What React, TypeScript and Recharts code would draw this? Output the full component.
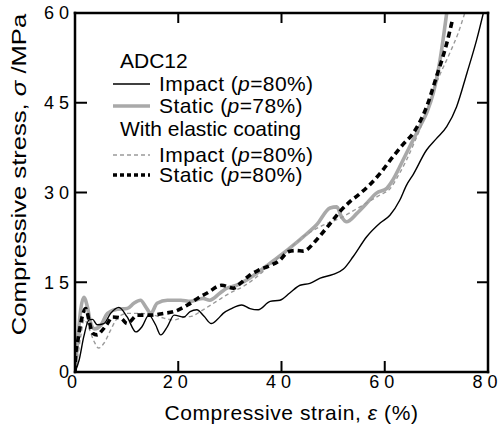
import React from 'react';
import { LineChart, Line, XAxis, YAxis, Legend, Label, ReferenceLine } from 'recharts';

type P = { x: number; y: number };
const pts = (a: number[][]): P[] => a.map(([x, y]) => ({ x, y }));

const FONT = '"Liberation Sans", Arial, Helvetica, sans-serif';

const X_DOMAIN: [number, number] = [0, 80];
const Y_DOMAIN: [number, number] = [0, 60];
const xTicks = [0, 20, 40, 60, 80];
const yTicks = [0, 15, 30, 45, 60];
const topTicks = [20, 40, 60];
const rightTicks = [15, 30, 45];
const spaced = (v: number) => String(v).split('').join(' ');

// ADC12, impact (p=80%)
const impactAdc12 = pts([
  [0, 0], [0.8, 2], [1.7, 5.9], [2.7, 8.7], [3.4, 8.8], [4.3, 7.9], [5.6, 8.1], [6.9, 9.8],
  [8.5, 10.8], [10.1, 9.2], [11.8, 6.7], [13, 7.6], [14.3, 9.5], [15.6, 7.9], [16.6, 6.2],
  [17.9, 7.6], [19.2, 9.5], [21.1, 9.2], [22.3, 10.1], [23.6, 10.4], [25, 9.3], [26.4, 8.1],
  [27.6, 8.8], [28.7, 9.8], [30.3, 10.6], [32.3, 11.2], [33.9, 10.6], [35.5, 10.4], [37.8, 11.8],
  [39.7, 12.0], [41.6, 13.2], [43.6, 14.5], [45.5, 14.8], [47.5, 15.7], [50, 16.3], [52, 17.2],
  [53.9, 19.3], [56.5, 22.6], [59.1, 24.9], [61, 26.2], [62.9, 28.7], [64.2, 31.2], [65.5, 33],
  [68.1, 37.1], [70, 39], [72, 41], [73.9, 44.3], [75.9, 49.9], [77.8, 55.5], [79.1, 60],
]);

// ADC12, static (p=78%)
const staticAdc12 = pts([
  [0, 0], [0.3, 3], [0.7, 7], [1.1, 10.4], [1.7, 12.5], [2.4, 10.9], [3.0, 8.3], [3.8, 7.2],
  [5, 7.8], [6.3, 9.8], [8.2, 10.5], [10.1, 10.6], [11.4, 11.5], [12.7, 12], [13.7, 10.9],
  [14.7, 9.8], [15.9, 11.5], [17.9, 12], [20.5, 12], [22.3, 11.8], [24.8, 12.3], [26.1, 12],
  [28.1, 13.2], [29.4, 14], [31.3, 14.5], [33.3, 15.4], [35.2, 16.5], [37.8, 18.2], [40.3, 19.8],
  [42.3, 21.2], [44.2, 22.6], [46.8, 24.6], [49.4, 27.4], [50.7, 27.6], [51.6, 26], [52.6, 25.1],
  [54.6, 26.5], [56.5, 28.2], [58.4, 29.9], [60.4, 30.7], [61.5, 32], [62.9, 34.3], [64.8, 37.6],
  [66.8, 41], [68.2, 43.5], [69.4, 46.6], [70.7, 52.1], [72, 60],
]);

// With elastic coating, impact (p=80%)
const impactElastic = pts([
  [0, 0], [0.5, 2.5], [1.1, 5.9], [1.8, 8.8], [2.7, 7.3], [3.7, 5.1], [4.6, 4.0], [5.6, 4.8],
  [6.9, 7.0], [8.2, 9.0], [10.1, 9.8], [12.7, 9.8], [15.3, 9.5], [17.2, 9.0], [19.2, 8.7],
  [21.1, 9.2], [22.5, 9.3], [24.8, 10.4], [27.4, 11.8], [30, 13.2], [32.6, 14.3], [35.2, 15.9],
  [37.8, 17.9], [40.3, 19.8], [42.3, 21.2], [44.2, 22.6], [47.5, 24.3], [51.3, 25.7], [55.2, 27.6],
  [59.1, 29.6], [61, 30.6], [62.6, 32.8], [64.2, 35.4], [65.8, 38.5], [67.5, 42.1], [70, 48.3],
  [72.6, 53.3], [74.2, 56.6], [75.5, 60],
]);

// With elastic coating, static (p=80%)
const staticElastic = pts([
  [0, 0], [0.1, 2.6], [0.6, 5.5], [1.1, 8.1], [2.1, 10.6], [2.7, 8.7], [3.4, 6.5], [4.3, 6.2],
  [5.3, 7.0], [6.3, 8.1], [7.2, 9.2], [8.9, 9.0], [10.1, 8.1], [12.1, 9.5], [14.7, 9.5],
  [17.2, 9.8], [19.2, 10.1], [21.8, 11.2], [24.3, 12.6], [25.6, 13.2], [28.4, 14.5], [30.7, 14.0],
  [32, 14.8], [33.9, 16.2], [35.5, 17.0], [38.1, 17.9], [39.7, 18.7], [41.3, 20.1], [42.8, 20.3],
  [44.2, 20.2], [46.5, 21.8], [47.5, 22.8], [49.7, 25.1], [51.3, 26.8], [53.3, 28.5], [54.9, 29.6],
  [57.1, 31.3], [59.1, 33.2], [61.6, 36], [63.5, 38], [65.5, 39.9], [68.1, 44.3], [70, 49.3],
  [72, 54.9], [73.1, 58.8],
]);

const styleImpactAdc = { stroke: '#000', width: 1.4, dash: undefined as string | undefined };
const styleStaticAdc = { stroke: '#a9a9a9', width: 3.6, dash: undefined as string | undefined };
const styleImpactEl = { stroke: '#9a9a9a', width: 1.4, dash: '4 3' };
const styleStaticEl = { stroke: '#000', width: 3.6, dash: '6 4' };

// chart geometry (pixels)
const CHART_W = 499;
const CHART_H = 425;
const MARGIN = { top: 13, right: 11, left: 0, bottom: 0 };
const Y_AXIS_W = 75;
const X_AXIS_H = 53;
const PLOT_W = CHART_W - MARGIN.left - MARGIN.right - Y_AXIS_W;
const PLOT_H = CHART_H - MARGIN.top - MARGIN.bottom - X_AXIS_H;
const TOP_TICK_PX = 10;
const RIGHT_TICK_PX = 11;
const topTickLen = (TOP_TICK_PX * (Y_DOMAIN[1] - Y_DOMAIN[0])) / PLOT_H;
const rightTickLen = (RIGHT_TICK_PX * (X_DOMAIN[1] - X_DOMAIN[0])) / PLOT_W;

const XTick = (props: any) => {
  const { x, y, payload } = props;
  return (
    <text x={x - 3} y={y} dy="0.71em" textAnchor="middle" fontSize={18}
      fill="#000" fontFamily={FONT}>{spaced(payload.value)}</text>
  );
};

const YTick = (props: any) => {
  const { x, y, payload } = props;
  return (
    <text x={x} y={y} dy="0.35em" textAnchor="end" fontSize={18}
      fill="#000" fontFamily={FONT}>{spaced(payload.value)}</text>
  );
};

const XTitle = (props: any) => {
  const vb = props.viewBox || { x: 75, y: 372, width: 413, height: 53 };
  const cx = vb.x + vb.width / 2 + 10;
  return (
    <text x={cx} y={vb.y + 48} textAnchor="middle" fontSize={21} fill="#000" fontFamily={FONT} letterSpacing={0.6}>
      <tspan>Compressive strain, </tspan>
      <tspan fontStyle="italic">ε</tspan>
      <tspan> (%)</tspan>
    </text>
  );
};

const YTitle = (props: any) => {
  const vb = props.viewBox || { x: 0, y: 13, width: 75, height: 359 };
  const cx = vb.x + 19;
  const cy = vb.y + vb.height / 2 - 18;
  return (
    <text transform={`translate(${cx},${cy}) rotate(-90) scale(1.22,1)`} x={0} y={0}
      textAnchor="middle" dominantBaseline="central" fontSize={21} fill="#000" fontFamily={FONT}>
      <tspan>Compressive stress, </tspan>
      <tspan fontStyle="italic">σ</tspan>
      <tspan> /MPa</tspan>
    </text>
  );
};

const legendItems = [
  { head: 'ADC12', baseY: 28 },
  { style: styleImpactAdc, name: 'Impact', p: '80', lineY: 44 },
  { style: styleStaticAdc, name: 'Static', p: '78', lineY: 66 },
  { head: 'With elastic coating', baseY: 96 },
  { style: styleImpactEl, name: 'Impact', p: '80', lineY: 115 },
  { style: { stroke: '#000', width: 3.6, dash: '4 3' }, name: 'Static', p: '80', lineY: 135 },
];

const LegendBox = () => (
  <svg width={240} height={160} style={{ overflow: 'visible', display: 'block' }}>
    {legendItems.map((it: any, i: number) =>
      it.head ? (
        <text key={i} x={20} y={it.baseY} fontSize={21} fill="#000" fontFamily={FONT}>{it.head}</text>
      ) : (
        <g key={i}>
          <line x1={13} x2={50} y1={it.lineY} y2={it.lineY} stroke={it.style.stroke}
            strokeWidth={it.style.width} strokeDasharray={it.style.dash} />
          <text x={59} y={it.lineY + 7} fontSize={21} fill="#000" fontFamily={FONT} letterSpacing={0.4}>
            {it.name} (<tspan fontStyle="italic">p</tspan>={it.p}%)
          </text>
        </g>
      )
    )}
  </svg>
);

const axisLine = { stroke: '#000', strokeWidth: 2.5, strokeLinecap: 'square' as const };
const tickLine = { stroke: '#000', strokeWidth: 2 };

export default function App() {
  return (
    <div style={{ position: 'absolute', left: 0, top: 0 }}>
      <LineChart width={CHART_W} height={CHART_H} margin={MARGIN} style={{ fontFamily: FONT }}>
        <XAxis xAxisId="b" dataKey="x" type="number" domain={X_DOMAIN} ticks={xTicks}
          orientation="bottom" height={X_AXIS_H} axisLine={axisLine} tickLine={tickLine}
          tickSize={-11} tickMargin={14} tick={XTick} interval={0} allowDataOverflow>
          <Label content={XTitle} />
        </XAxis>
        <XAxis xAxisId="t" dataKey="x" type="number" domain={X_DOMAIN} ticks={topTicks}
          orientation="top" mirror height={20} axisLine={axisLine} tickLine={false}
          tick={false} interval={0} allowDataOverflow />
        <YAxis yAxisId="l" type="number" domain={Y_DOMAIN} ticks={yTicks} width={Y_AXIS_W}
          orientation="left" axisLine={axisLine} tickLine={tickLine} tickSize={-12} tickMargin={18}
          tick={YTick} interval={0} allowDataOverflow>
          <Label content={YTitle} />
        </YAxis>
        <YAxis yAxisId="r" type="number" domain={Y_DOMAIN} ticks={rightTicks} width={20}
          orientation="right" mirror axisLine={axisLine} tickLine={false}
          tick={false} interval={0} allowDataOverflow />
        <Legend layout="vertical" align="center" verticalAlign="middle" content={LegendBox}
          wrapperStyle={{ position: 'absolute', left: 100, top: 40, width: 240, height: 160 }} />
        {topTicks.map((t) => (
          <ReferenceLine key={`tt${t}`} xAxisId="b" yAxisId="l" ifOverflow="visible"
            segment={[{ x: t, y: Y_DOMAIN[1] }, { x: t, y: Y_DOMAIN[1] - topTickLen }]}
            stroke="#000" strokeWidth={2} />
        ))}
        {rightTicks.map((t) => (
          <ReferenceLine key={`rt${t}`} xAxisId="b" yAxisId="l" ifOverflow="visible"
            segment={[{ x: X_DOMAIN[1], y: t }, { x: X_DOMAIN[1] - rightTickLen, y: t }]}
            stroke="#000" strokeWidth={2} />
        ))}
        <Line xAxisId="t" yAxisId="r" data={staticAdc12} dataKey="y" type="monotone"
          stroke={styleStaticAdc.stroke} strokeWidth={styleStaticAdc.width} dot={false}
          activeDot={false} isAnimationActive={false} legendType="none" />
        <Line xAxisId="t" yAxisId="r" data={impactElastic} dataKey="y" type="monotone"
          stroke={styleImpactEl.stroke} strokeWidth={styleImpactEl.width} strokeDasharray={styleImpactEl.dash}
          dot={false} activeDot={false} isAnimationActive={false} legendType="none" />
        <Line xAxisId="b" yAxisId="l" data={impactAdc12} dataKey="y" type="monotone"
          stroke={styleImpactAdc.stroke} strokeWidth={styleImpactAdc.width} dot={false}
          activeDot={false} isAnimationActive={false} legendType="none" />
        <Line xAxisId="b" yAxisId="l" data={staticElastic} dataKey="y" type="monotone"
          stroke={styleStaticEl.stroke} strokeWidth={styleStaticEl.width} strokeDasharray={styleStaticEl.dash}
          dot={false} activeDot={false} isAnimationActive={false} legendType="none" />
      </LineChart>
    </div>
  );
}
